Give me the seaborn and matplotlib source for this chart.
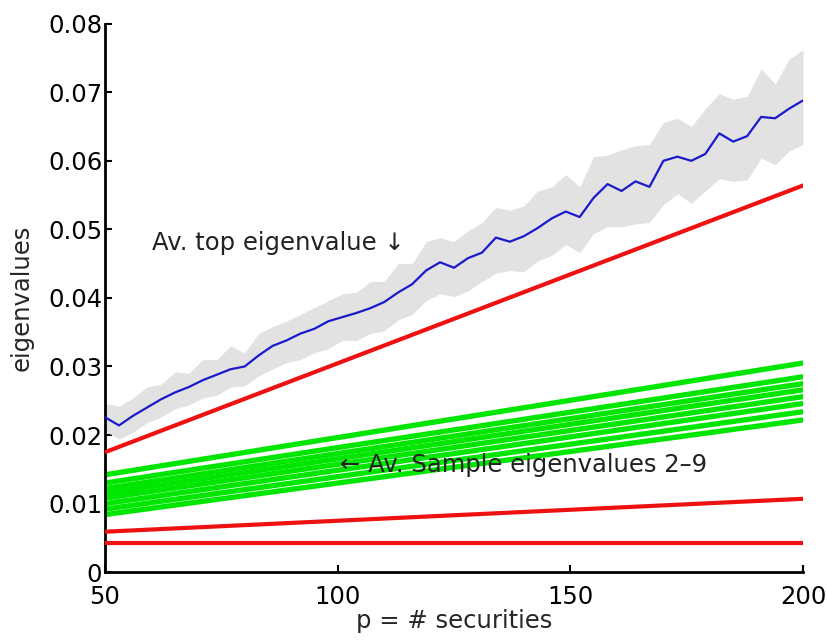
import numpy as np
import pandas as pd
import matplotlib
matplotlib.use("Agg")
import matplotlib.pyplot as plt
import seaborn as sns

# ---- data ----
p_grid = list(range(50, 201, 3))
top_eig = [
    .0226, .0214, .0228, .0240, .0252, .0262, .0270, .0280, .0288, .0296,
    .0300, .0316, .0330, .0338, .0348, .0355, .0366, .0372, .0378, .0385,
    .0394, .0408, .0420, .0440, .0452, .0444, .0458, .0466, .0488, .0482,
    .0490, .0502, .0516, .0526, .0518, .0546, .0566, .0556, .0570, .0562,
    .0600, .0606, .0600, .0610, .0640, .0628, .0636, .0664, .0662, .0676, .0688]
band_upper = [
    .0246, .0242, .0254, .0270, .0274, .0292, .0290, .0310, .0310, .0330,
    .0320, .0348, .0358, .0366, .0376, .0386, .0396, .0406, .0408, .0424,
    .0424, .0450, .0450, .0482, .0488, .0482, .0498, .0510, .0532, .0528,
    .0534, .0556, .0562, .0580, .0562, .0606, .0608, .0616, .0622, .0624,
    .0656, .0662, .0650, .0676, .0698, .0690, .0694, .0734, .0712, .0748, .0762]
band_lower = [
    .0206, .0194, .0204, .0218, .0226, .0238, .0244, .0254, .0258, .0270,
    .0272, .0286, .0296, .0306, .0310, .0320, .0326, .0338, .0338, .0348,
    .0352, .0368, .0376, .0396, .0406, .0402, .0410, .0424, .0436, .0440,
    .0438, .0454, .0462, .0478, .0466, .0494, .0504, .0504, .0508, .0510,
    .0536, .0552, .0538, .0556, .0574, .0570, .0572, .0604, .0594, .0614, .0624]

p_ends = [50, 200]
red_lines = {
    "red1": [0.0175, 0.0564],
    "red2": [0.0059, 0.0107],
    "red3": [0.0043, 0.0043],
}
green_start = [0.0142, 0.0130, 0.0122, 0.0115, 0.0108, 0.0100, 0.0092, 0.0084]
green_end = [0.0305, 0.0285, 0.0275, 0.0266, 0.0256, 0.0246, 0.0234, 0.0222]

x_ticks = [50, 100, 150, 200]
y_ticks = [0, 0.01, 0.02, 0.03, 0.04, 0.05, 0.06, 0.07, 0.08]
y_tick_labels = ["0", "0.01", "0.02", "0.03", "0.04", "0.05", "0.06", "0.07", "0.08"]

# ---- plot ----
sns.set_style("ticks")
plt.rcParams["font.family"] = ["DejaVu Sans"]
FS = 17.5

fig = plt.figure(figsize=(8.27, 6.40), dpi=100)
ax = fig.add_axes([0.127, 0.106, 0.844, 0.857])

ax.fill_between(p_grid, band_lower, band_upper, color="#e2e2e2", linewidth=0, zorder=1)

green_rows = []
for i, (s, e) in enumerate(zip(green_start, green_end)):
    for p, v in zip(p_ends, [s, e]):
        green_rows.append({"p": p, "v": v, "k": f"g{i}"})
gdf = pd.DataFrame(green_rows)
sns.lineplot(data=gdf, x="p", y="v", units="k", estimator=None, color="#00e600",
             linewidth=3.8, ax=ax, zorder=2)

red_rows = []
for k, vals in red_lines.items():
    for p, v in zip(p_ends, vals):
        red_rows.append({"p": p, "v": v, "k": k})
rdf = pd.DataFrame(red_rows)
sns.lineplot(data=rdf, x="p", y="v", units="k", estimator=None, color="#ee1111",
             linewidth=3, ax=ax, zorder=3)

bdf = pd.DataFrame({"p": p_grid, "v": top_eig})
sns.lineplot(data=bdf, x="p", y="v", color="#1a1acc", linewidth=1.6, ax=ax, zorder=4)

ax.set_xlim(50, 200)
ax.set_ylim(0, 0.08)
ax.set_xticks(x_ticks)
ax.set_xticklabels([str(t) for t in x_ticks])
ax.set_yticks(y_ticks)
ax.set_yticklabels(y_tick_labels)
ax.tick_params(direction="in", length=5, width=1.5, labelsize=FS, colors="black")
ax.tick_params(axis="x", pad=9)
ax.tick_params(axis="y", pad=2)
sns.despine(ax=ax)
for s in ["left", "bottom"]:
    ax.spines[s].set_linewidth(2)
    ax.spines[s].set_color("black")

ax.set_xlabel("p = # securities", fontsize=FS, labelpad=0)
ax.set_ylabel("eigenvalues", fontsize=FS, labelpad=10)

ax.text(60.2, 0.048, "Av. top eigenvalue \u2193", fontsize=FS, va="center", ha="left",
        color="#222222", zorder=5)
ax.text(100.5, 0.0156, "\u2190 Av. Sample eigenvalues 2\u20139", fontsize=FS, va="center",
        ha="left", color="#222222", zorder=5)

fig.savefig("out.png", dpi=100)
